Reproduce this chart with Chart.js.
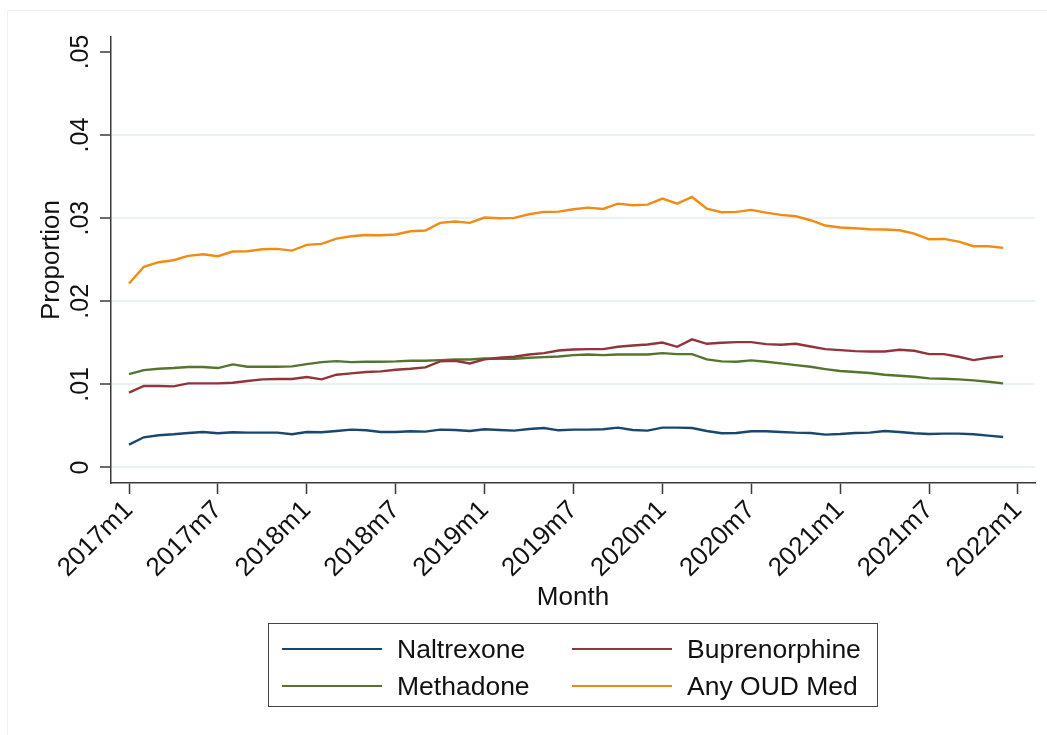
<!DOCTYPE html>
<html>
<head>
<meta charset="utf-8">
<script src="https://cdn.jsdelivr.net/npm/chart.js@4"></script>
<style>
  html, body { margin: 0; padding: 0; background: #ffffff; }
  #wrap { position: relative; width: 1047px; height: 735px; overflow: hidden; background: #fff; }
  #frame { position: absolute; left: 7px; top: 10px; width: 1060px; height: 740px; border: 1px solid #f1f1f1; box-sizing: border-box; }
  canvas { position: absolute; left: 0; top: 0; }
  #legend { position: absolute; left: 268px; top: 623px; width: 610px; height: 84px; border: 1px solid #444; box-sizing: border-box;
            font-family: "Liberation Sans", Arial, sans-serif; font-size: 26.5px; color: #111; }
  .item { position: absolute; height: 30px; line-height: 30px; white-space: nowrap; }
  .sw { position: absolute; top: 14px; width: 100px; height: 2px; }
  .lbl { position: absolute; left: 115px; top: 0; }
</style>
</head>
<body>
<div id="wrap">
  <div id="frame"></div>
  <canvas id="c" width="1047" height="735"></canvas>
  <div id="legend"></div>
</div>
<script>
// Month index 0 = 2017m1 ... 59 = 2021m12
const startYear = 2017;
const monthIndex = Array.from({length: 60}, (_, i) => i);
const xTicks = [0, 6, 12, 18, 24, 30, 36, 42, 48, 54, 60];
const yTicks = [0, 0.01, 0.02, 0.03, 0.04, 0.05];

const seriesNames = ["Naltrexone", "Buprenorphine", "Methadone", "Any OUD Med"];

const naltrexone = [0.00274,0.00363,0.00387,0.00399,0.00415,0.00427,0.00411,0.00423,0.00419,0.00419,
  0.00419,0.00399,0.00427,0.00423,0.00439,0.00455,0.00447,0.00427,0.00427,0.00435,
  0.00431,0.00455,0.00451,0.00439,0.00459,0.00451,0.00443,0.00463,0.00475,0.00447,
  0.00455,0.00455,0.00459,0.00479,0.00451,0.00443,0.00479,0.00479,0.00475,0.00439,
  0.00411,0.00415,0.00435,0.00435,0.00427,0.00419,0.00415,0.00395,0.00403,0.00415,
  0.00419,0.00439,0.00427,0.00411,0.00403,0.00407,0.00407,0.00399,0.00383,0.00367];

const buprenorphine = [0.0090,0.0098,0.0098,0.00976,0.01012,0.01012,0.01012,0.0102,0.0104,0.0106,
  0.01064,0.01064,0.01088,0.0106,0.01116,0.01132,0.01148,0.01156,0.01176,0.01188,
  0.01204,0.01276,0.01284,0.01252,0.013,0.0132,0.01332,0.0136,0.01376,0.01408,
  0.0142,0.01424,0.01424,0.01452,0.01468,0.0148,0.01504,0.01452,0.01541,0.01488,
  0.015,0.01508,0.01508,0.01484,0.01476,0.01488,0.01456,0.01424,0.01412,0.014,
  0.01396,0.01396,0.01416,0.01404,0.01364,0.01364,0.01332,0.01292,0.0132,0.0134];

const methadone = [0.01124,0.01172,0.01188,0.01196,0.01208,0.01208,0.01196,0.0124,0.01212,0.01212,
  0.01212,0.01216,0.01244,0.01268,0.0128,0.01268,0.01272,0.01272,0.01276,0.01284,
  0.01284,0.01292,0.013,0.013,0.01312,0.01308,0.01308,0.0132,0.01328,0.01336,
  0.01352,0.0136,0.01352,0.0136,0.0136,0.0136,0.01376,0.01364,0.01364,0.013,
  0.01276,0.01272,0.01288,0.01272,0.01252,0.01232,0.01212,0.01184,0.0116,0.01148,
  0.01136,0.01116,0.01104,0.01092,0.01072,0.01068,0.0106,0.01048,0.01032,0.01012];

const anyOUD = [0.02214,0.02414,0.0247,0.02494,0.02546,0.02566,0.02542,0.02598,0.02602,0.02626,
  0.0263,0.0261,0.02678,0.0269,0.02754,0.02782,0.02798,0.02794,0.02803,0.02843,
  0.02851,0.02943,0.02959,0.02943,0.03007,0.02999,0.03003,0.03047,0.03075,0.03079,
  0.03107,0.03127,0.03111,0.03175,0.03155,0.03163,0.03235,0.03175,0.03255,0.03115,
  0.03071,0.03075,0.03099,0.03067,0.03039,0.03023,0.02975,0.02911,0.02887,0.02879,
  0.02867,0.02863,0.02855,0.02815,0.02746,0.0275,0.02718,0.02662,0.02662,0.02642];

const colors = ["#1a476f", "#90353b", "#55752f", "#f08c14"];
const seriesValues = [naltrexone, buprenorphine, methadone, anyOUD];

const FONT = '"Liberation Sans", Arial, sans-serif';

function monthLabel(v) {
  const y = startYear + Math.floor(v / 12);
  const m = (v % 12) + 1;
  return y + 'm' + m;
}

const datasets = seriesValues.map((vals, k) => ({
  label: seriesNames[k],
  data: monthIndex.map((mi, i) => ({x: mi, y: vals[i]})),
  borderColor: colors[k],
  backgroundColor: colors[k],
  borderWidth: 2.4,
  pointRadius: 0,
  tension: 0,
  fill: false
}));

new Chart(document.getElementById('c'), {
  type: 'line',
  data: { datasets },
  options: {
    responsive: false,
    animation: false,
    events: [],
    layout: { padding: { top: 37, left: 0, right: 12, bottom: 122 } },
    plugins: { legend: { display: false }, tooltip: { enabled: false } },
    scales: {
      x: {
        type: 'linear',
        min: -1.215,
        max: 61.15,
        afterBuildTicks: (s) => { s.ticks = xTicks.map(v => ({value: v})); },
        afterFit: (s) => { s.height = 130; },
        border: { display: true, color: '#3a3a3a', width: 1.5 },
        grid: { drawOnChartArea: false, drawTicks: true, tickLength: 11, tickColor: '#3a3a3a', tickWidth: 1.5 },
        ticks: {
          minRotation: 45, maxRotation: 45, autoSkip: false, padding: 1,
          color: '#111',
          font: { family: FONT, size: 26 },
          callback: (v) => monthLabel(v)
        },
        title: { display: true, text: 'Month', color: '#111', font: { family: FONT, size: 26, lineHeight: 1.2 }, padding: { top: 0, bottom: 0 } }
      },
      y: {
        type: 'linear',
        min: -0.00187,
        max: 0.0518,
        afterBuildTicks: (s) => { s.ticks = yTicks.map(v => ({value: v})); },
        afterFit: (s) => { s.width = 111; },
        border: { display: true, color: '#3a3a3a', width: 1.5 },
        grid: {
          drawOnChartArea: true, drawTicks: true, tickLength: 11, tickWidth: 1.5,
          tickColor: '#3a3a3a',
          lineWidth: 2,
          color: (ctx) => (ctx.tick && Math.abs(ctx.tick.value - 0.05) < 1e-9) ? 'rgba(0,0,0,0)' : '#eaf2f3'
        },
        ticks: {
          minRotation: 90, maxRotation: 90, crossAlign: 'center', padding: 2,
          color: '#111',
          font: { family: FONT, size: 25 },
          callback: (v) => v === 0 ? '0' : v.toFixed(2).replace(/^0/, '')
        },
        title: { display: true, text: 'Proportion', color: '#111', font: { family: FONT, size: 26, lineHeight: 1.2 }, padding: { top: 36, bottom: 0 } }
      }
    }
  }
});

// HTML legend (2 columns x 2 rows)
const legendPos = [[13, 10], [303, 10], [13, 47], [303, 47]];
const lg = document.getElementById('legend');
seriesNames.forEach((name, k) => {
  const it = document.createElement('div');
  it.className = 'item';
  it.style.left = legendPos[k][0] + 'px';
  it.style.top = legendPos[k][1] + 'px';
  const sw = document.createElement('div');
  sw.className = 'sw';
  sw.style.background = colors[k];
  const t = document.createElement('div');
  t.className = 'lbl';
  t.textContent = name;
  it.appendChild(sw); it.appendChild(t);
  lg.appendChild(it);
});
</script>
</body>
</html>
